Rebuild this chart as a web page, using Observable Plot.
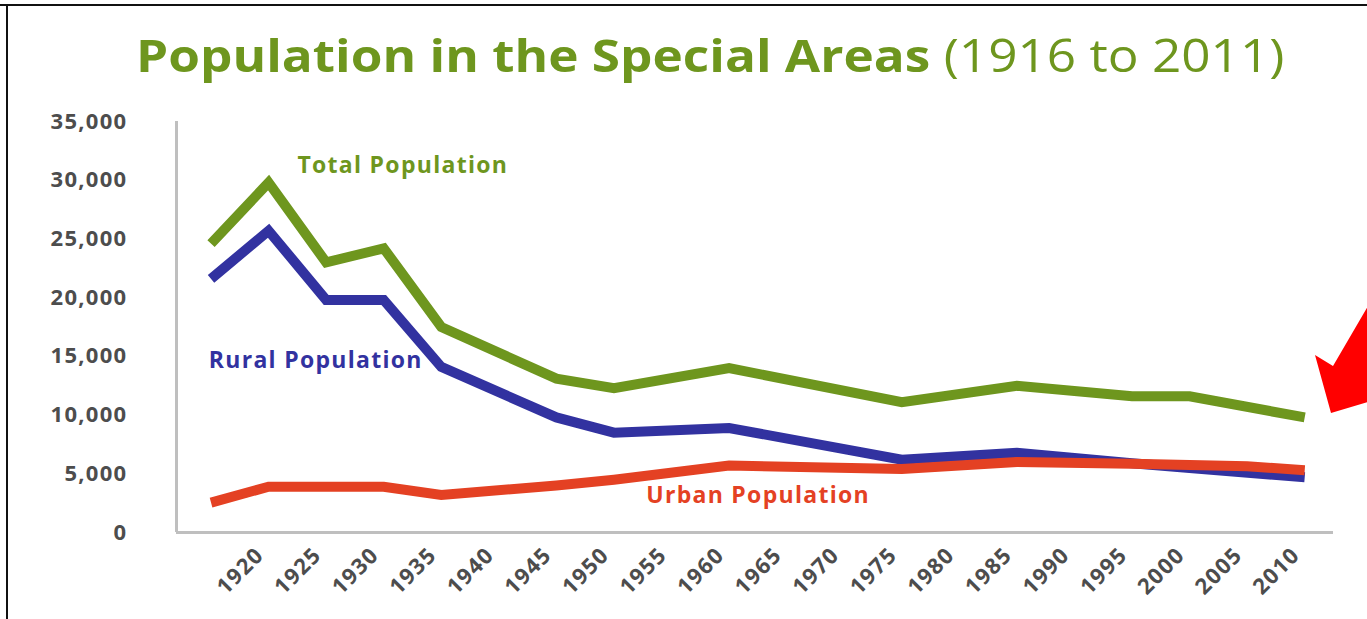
<!DOCTYPE html>
<html>
<head>
<meta charset="utf-8">
<script src="https://cdn.jsdelivr.net/npm/d3@7"></script>
<script src="https://cdn.jsdelivr.net/npm/@observablehq/plot@0.6"></script>
<style>
  body { margin: 0; background: #fff; font-family: "Open Sans", sans-serif; }
  #page { position: relative; width: 1367px; height: 619px; overflow: hidden; background: #fff; }
  #topline { position: absolute; left: 0; top: 4px; width: 1367px; height: 2px; background: #111; }
  #leftline { position: absolute; left: 6px; top: 4px; width: 2px; height: 620px; background: #111; }
  #title { position: absolute; left: 136px; top: 32px; white-space: nowrap; font-family: "Open Sans", sans-serif;
           font-size: 45px; line-height: 45px; color: #6e961e; transform: scaleX(1.14); transform-origin: 0 0; }
  #title b { font-weight: 700; }
  #title span { font-weight: 400; }
  #chart { position: absolute; left: 0; top: 100px; }
  #chart svg text { letter-spacing: 1.3px; }
  #deco { position: absolute; left: 0; top: 0; pointer-events: none; }
</style>
</head>
<body>
<div id="page">
  <div id="topline"></div>
  <div id="leftline"></div>
  <div id="title"><b>Population in the Special Areas</b> <span>(1916 to 2011)</span></div>
  <div id="chart"></div>
  <svg id="deco" width="1367" height="619"><polygon points="1315,355 1333,366 1375,294 1375,400 1331,413" fill="#ff0000"/></svg>
</div>
<script>
// Census years shared by total and rural series
const censusYears = [1916, 1921, 1926, 1931, 1936, 1946, 1951, 1961, 1976, 1986, 1996, 2001, 2011];
const totalPopulation = [24600, 29800, 23000, 24200, 17500, 13100, 12300, 14000, 11100, 12500, 11600, 11600, 9800];
const ruralPopulation = [21600, 25700, 19800, 19800, 14100, 9800, 8500, 8900, 6200, 6800, 5900, 5500, 4700];
// Urban series (has an extra reading near the end)
const urbanYears = [1916, 1921, 1926, 1931, 1936, 1946, 1951, 1961, 1976, 1986, 1996, 2001, 2006, 2011];
const urbanPopulation = [2550, 3900, 3900, 3900, 3200, 4000, 4500, 5700, 5400, 6000, 5850, 5750, 5650, 5300];

const seriesNames = ["Total Population", "Rural Population", "Urban Population"];
const seriesColors = ["#6e961e", "#3232a0", "#e44123"];

const yTicks = [0, 5000, 10000, 15000, 20000, 25000, 30000, 35000];
const xTicks = [1920, 1925, 1930, 1935, 1940, 1945, 1950, 1955, 1960, 1965, 1970, 1975, 1980, 1985, 1990, 1995, 2000, 2005, 2010];

// Series label anchors (year, value)
const labelYears = [1923.5, 1915.8, 1953.8];
const labelValues = [31200, 14600, 3150];

const rows = [
  ...censusYears.map((year, i) => ({series: seriesNames[0], year, value: totalPopulation[i]})),
  ...censusYears.map((year, i) => ({series: seriesNames[1], year, value: ruralPopulation[i]})),
  ...urbanYears.map((year, i) => ({series: seriesNames[2], year, value: urbanPopulation[i]}))
];
const labels = seriesNames.map((name, i) => ({series: name, year: labelYears[i], value: labelValues[i]}));

const lineOpts = {x: "year", y: "value", stroke: "series", strokeWidth: 10, strokeLinejoin: "miter", strokeLinecap: "butt", strokeMiterlimit: 10};

const chart = Plot.plot({
  width: 1367,
  height: 519,
  marginLeft: 176,
  marginRight: 34,
  marginTop: 21,
  marginBottom: 87,
  style: {fontFamily: "Open Sans, sans-serif", fontSize: "22px", fontWeight: "bold", color: "#4d4d4d", background: "transparent", overflow: "visible"},
  x: {domain: [1913, 2013.5]},
  y: {domain: [0, 35000]},
  color: {domain: seriesNames, range: seriesColors},
  marks: [
    Plot.ruleX([1913], {stroke: "#bfbfbf", strokeWidth: 3}),
    Plot.ruleY([0], {stroke: "#bfbfbf", strokeWidth: 3}),
    Plot.axisY({ticks: yTicks, tickFormat: d3.format(",d"), tickSize: 0, tickPadding: 49, label: null, fontSize: 22, fontWeight: "bold"}),
    Plot.axisX({ticks: xTicks, tickFormat: "d", tickSize: 0, tickPadding: 19, tickRotate: -45, dx: 3, label: null, fontSize: 22, fontWeight: "bold"}),
    Plot.line(rows.filter(d => d.series === seriesNames[0]), lineOpts),
    Plot.line(rows.filter(d => d.series === seriesNames[1]), lineOpts),
    Plot.line(rows.filter(d => d.series === seriesNames[2]), lineOpts),
    Plot.text(labels, {x: "year", y: "value", text: "series", fill: "series", textAnchor: "start", fontSize: 23, fontWeight: "bold"})
  ]
});
document.getElementById("chart").appendChild(chart);
</script>
</body>
</html>
